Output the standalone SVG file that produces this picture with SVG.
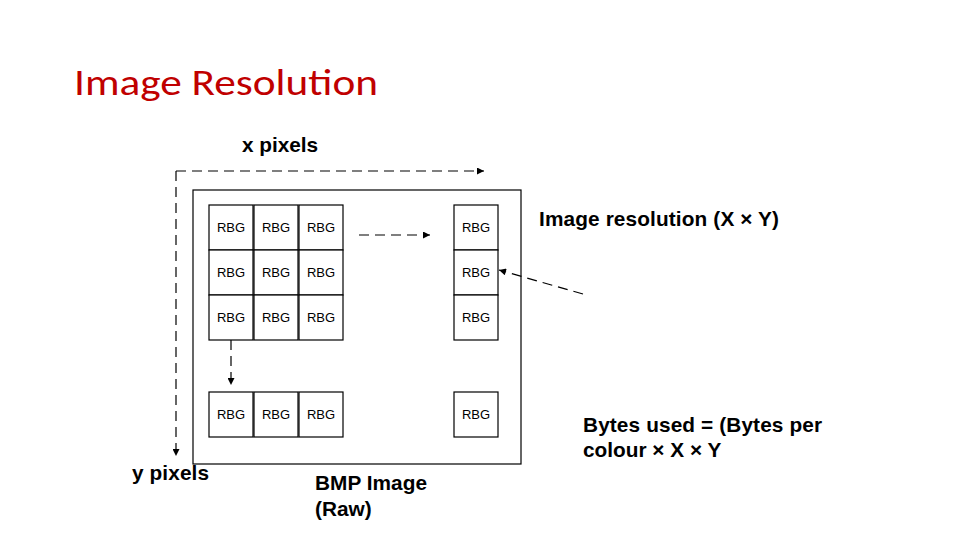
<svg xmlns="http://www.w3.org/2000/svg" width="960" height="540" viewBox="0 0 960 540">
<defs>
<marker id="ah" viewBox="0 0 10 10" refX="10" refY="5" markerWidth="9" markerHeight="7" markerUnits="userSpaceOnUse" orient="auto"><path d="M0,0L10,5L0,10z" fill="#000"/></marker>
<style>
.c{fill:#fff;stroke:#000;stroke-width:1.2}
.t{font-family:"Liberation Sans",Arial,sans-serif;font-size:13px;text-anchor:middle}
.l{font-family:"Liberation Sans",Arial,sans-serif;font-size:20.8px;font-weight:bold}
.d{fill:none;stroke:#000;stroke-width:1.2;stroke-dasharray:10,6;marker-end:url(#ah)}
</style>
</defs>
<rect width="960" height="540" fill="#fff"/>
<text x="74" y="95" font-family="Carlito,'Liberation Sans',sans-serif" font-size="36" fill="#C00000" textLength="304" lengthAdjust="spacingAndGlyphs">Image Resolution</text>
<rect id="bmp" x="193" y="190" width="328" height="274" fill="#fff" stroke="#000" stroke-width="1.2"/>
<g id="cells">
<g><rect class="c" x="209" y="205" width="44" height="45"/><text class="t" x="231" y="232">RBG</text></g>
<g><rect class="c" x="254" y="205" width="44" height="45"/><text class="t" x="276" y="232">RBG</text></g>
<g><rect class="c" x="299" y="205" width="44" height="45"/><text class="t" x="321" y="232">RBG</text></g>
<g><rect class="c" x="454" y="205" width="44" height="45"/><text class="t" x="476" y="232">RBG</text></g>
<g><rect class="c" x="209" y="250" width="44" height="45"/><text class="t" x="231" y="277">RBG</text></g>
<g><rect class="c" x="254" y="250" width="44" height="45"/><text class="t" x="276" y="277">RBG</text></g>
<g><rect class="c" x="299" y="250" width="44" height="45"/><text class="t" x="321" y="277">RBG</text></g>
<g><rect class="c" x="454" y="250" width="44" height="45"/><text class="t" x="476" y="277">RBG</text></g>
<g><rect class="c" x="209" y="295" width="44" height="45"/><text class="t" x="231" y="322">RBG</text></g>
<g><rect class="c" x="254" y="295" width="44" height="45"/><text class="t" x="276" y="322">RBG</text></g>
<g><rect class="c" x="299" y="295" width="44" height="45"/><text class="t" x="321" y="322">RBG</text></g>
<g><rect class="c" x="454" y="295" width="44" height="45"/><text class="t" x="476" y="322">RBG</text></g>
<g><rect class="c" x="209" y="392" width="44" height="45"/><text class="t" x="231" y="419">RBG</text></g>
<g><rect class="c" x="254" y="392" width="44" height="45"/><text class="t" x="276" y="419">RBG</text></g>
<g><rect class="c" x="299" y="392" width="44" height="45"/><text class="t" x="321" y="419">RBG</text></g>
<g><rect class="c" x="454" y="392" width="44" height="45"/><text class="t" x="476" y="419">RBG</text></g>
</g>
<g id="connectors">
<path class="d" d="M176,171H484"/>
<path class="d" d="M176,171V456"/>
<path class="d" d="M231,340V385"/>
<path class="d" d="M359,235H430"/>
<path class="d" d="M583,294L499,270" stroke-dasharray="8,5"/>
</g>
<g id="labels">
<text class="l" x="242" y="152" textLength="76">x pixels</text>
<text class="l" x="539" y="226" textLength="240">Image resolution (X × Y)</text>
<text class="l" x="583" y="432" textLength="239">Bytes used = (Bytes per</text>
<text class="l" x="583" y="457">colour × X × Y</text>
<text class="l" x="132" y="480" textLength="77">y pixels</text>
<text class="l" x="315" y="490" textLength="112">BMP Image</text>
<text class="l" x="315" y="516">(Raw)</text>
</g>
</svg>
